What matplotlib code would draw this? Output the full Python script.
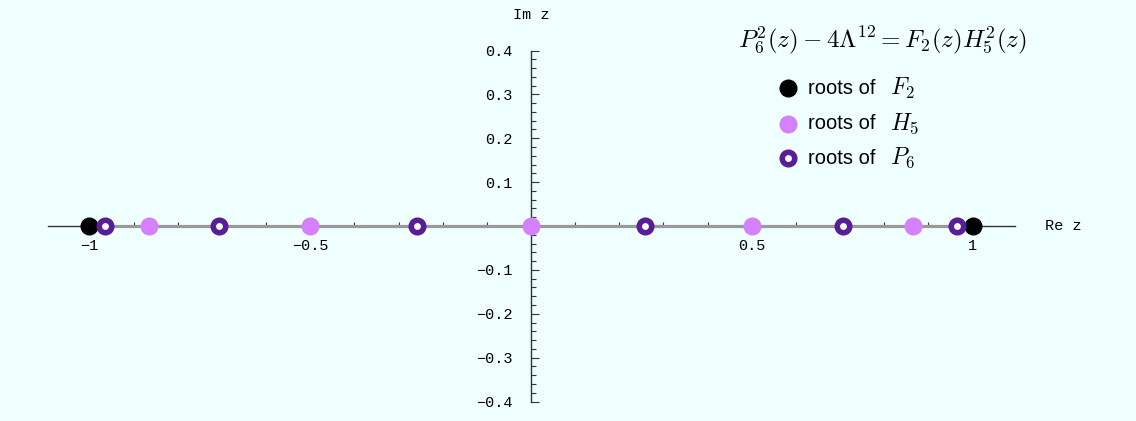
import matplotlib.pyplot as plt
import matplotlib.ticker as mticker
import numpy as np

plt.rcParams['mathtext.fontset'] = 'cm'

# roots
f2_roots = [-1.0, 1.0]
h5_roots = [-0.866, -0.5, 0.0, 0.5, 0.866]
p6_roots = [-0.966, -0.707, -0.259, 0.259, 0.707, 0.966]
cut = [-0.966, 0.966]

x_major = [-1, -0.5, 0.5, 1]
x_labels = ['\u22121', '\u22120.5', '0.5', '1']
y_major = [-0.4, -0.3, -0.2, -0.1, 0.1, 0.2, 0.3, 0.4]
y_labels = ['\u22120.4', '\u22120.3', '\u22120.2', '\u22120.1', '0.1', '0.2', '0.3', '0.4']
x_minor = np.round(np.arange(-1.0, 1.001, 0.1), 2)
y_minor = np.round(np.arange(-0.4, 0.401, 0.02), 3)

bg = '#f0ffff'
c_f2 = 'black'
c_h5 = '#d580ff'
c_p6 = '#581d98'

fig = plt.figure(figsize=(11.36, 4.21), dpi=100)
fig.patch.set_facecolor(bg)
ax = fig.add_axes([0, 0, 1, 1])
ax.set_facecolor(bg)
ax.set_xlim(-1.2027, 1.3703)
ax.set_ylim(-0.4444, 0.5151)

for s in ['top', 'right']:
    ax.spines[s].set_visible(False)
ax.spines['left'].set_position(('data', 0))
ax.spines['bottom'].set_position(('data', 0))
ax.spines['left'].set_bounds(-0.4, 0.4)
ax.spines['bottom'].set_bounds(-1.094, 1.096)
for s in ['left', 'bottom']:
    ax.spines[s].set_color('#333333')
    ax.spines[s].set_linewidth(1.0)

mono = ['Liberation Mono', 'DejaVu Sans Mono']
ax.set_xticks(x_major)
ax.set_xticklabels(x_labels, fontfamily=mono, fontsize=11)
ax.set_yticks(y_major)
ax.set_yticklabels(y_labels, fontfamily=mono, fontsize=11)
ax.xaxis.set_minor_locator(mticker.FixedLocator(x_minor))
ax.yaxis.set_minor_locator(mticker.FixedLocator(y_minor))
ax.tick_params(axis='x', which='major', direction='in', length=5, width=0.8,
               pad=9, colors='#333333', labelcolor='black')
ax.tick_params(axis='x', which='minor', direction='in', length=3, width=0.8,
               colors='#333333')
ax.tick_params(axis='y', which='major', direction='in', length=6, width=0.8,
               pad=13, colors='#333333', labelcolor='black')
ax.tick_params(axis='y', which='minor', direction='in', length=3.5, width=0.8,
               colors='#333333')

ax.text(0.0, 0.481, 'Im z', fontfamily=mono, fontsize=11, ha='center', va='center')
ax.text(1.205, 0.0, 'Re z', fontfamily=mono, fontsize=11, ha='center', va='center')

ax.plot(cut, [0, 0], color='#999999', lw=2.3, zorder=3, solid_capstyle='butt')

ring = dict(mfc='white', mec=c_p6, ms=9, mew=4)
ax.plot(f2_roots, np.zeros(len(f2_roots)), 'o', color=c_f2, ms=13, mew=0,
        zorder=4, clip_on=False)
ax.plot(h5_roots, np.zeros(len(h5_roots)), 'o', color=c_h5, ms=13, mew=0,
        zorder=4, clip_on=False)
ax.plot(p6_roots, np.zeros(len(p6_roots)), 'o', zorder=5, clip_on=False, **ring)

ax.text(0.795, 0.424, r'$P_6^2(z)-4\Lambda^{12}=F_2(z)H_5^2(z)$', fontsize=18,
        ha='center', va='center')

leg_x = [0.583, 0.583, 0.583]
leg_y = [0.3145, 0.2325, 0.155]
leg_names = ['F_2', 'H_5', 'P_6']
ax.plot(leg_x[0], leg_y[0], 'o', color=c_f2, ms=13, mew=0)
ax.plot(leg_x[1], leg_y[1], 'o', color=c_h5, ms=13, mew=0)
ax.plot(leg_x[2], leg_y[2], 'o', **ring)
for yy, nm in zip(leg_y, leg_names):
    ax.text(leg_x[0] + 0.045, yy, 'roots of', fontfamily='Liberation Sans',
            fontsize=14.5, ha='left', va='center')
    ax.text(leg_x[0] + 0.23, yy, '$' + nm + '$', fontsize=17, ha='left',
            va='center')

fig.savefig('out.png', dpi=100, facecolor=bg)
